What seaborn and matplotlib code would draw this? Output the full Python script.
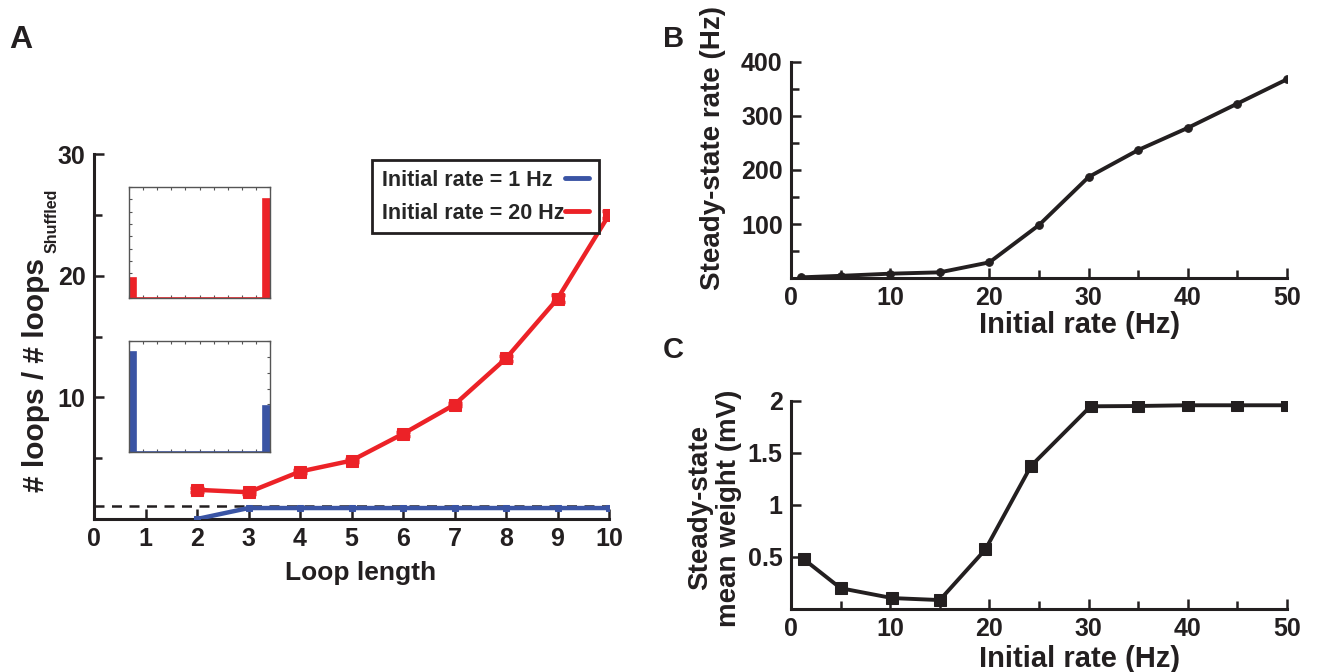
import matplotlib
matplotlib.use("Agg")
import matplotlib.pyplot as plt
import seaborn as sns
import numpy as np
import pandas as pd

# ---------------- data ----------------
loop_length = [2, 3, 4, 5, 6, 7, 8, 9, 10]
ratio_20hz = [2.4, 2.2, 3.9, 4.8, 7.0, 9.4, 13.2, 18.1, 25.0]
ratio_20hz_err = [0.15, 0.12, 0.12, 0.12, 0.15, 0.15, 0.2, 0.3, 0.3]
ratio_1hz = [0.0, 0.9, 0.9, 0.9, 0.9, 0.9, 0.9, 0.9, 0.9]
shuffled_level = 1.1

inset_bins = list(range(20))
inset_red = [0.165] + [0.0] * 18 + [0.80]
inset_blue = [0.63] + [0.0] * 18 + [0.29]

rate_b = [1, 5, 10, 15, 20, 25, 30, 35, 40, 45, 50]
steady_rate = [1.2, 4, 8, 10.5, 29, 98, 187, 237, 278, 323, 368]

rate_c = [1.3, 5, 10.2, 15, 19.6, 24.2, 30.2, 35, 40, 45, 50]
steady_weight = [0.478, 0.20, 0.105, 0.086, 0.573, 1.376, 1.949, 1.952, 1.959, 1.959, 1.959]

legend_labels = ["Initial rate = 1 Hz  ", "Initial rate = 20 Hz"]

RED = "#EC2227"
BLUE = "#3A54A4"
BLACK = "#231F20"

sns.set_theme(style="ticks")
plt.rcParams["font.family"] = ["Liberation Sans", "DejaVu Sans"]
plt.rcParams["font.weight"] = "bold"
plt.rcParams["axes.labelweight"] = "bold"

W, H = 1317, 672
fig = plt.figure(figsize=(W / 100, H / 100), dpi=100)

TICK_FS = 18


def style_axes(ax):
    for s in ["top", "right"]:
        ax.spines[s].set_visible(False)
    for s in ["left", "bottom"]:
        ax.spines[s].set_linewidth(2.2)
        ax.spines[s].set_color(BLACK)
    ax.tick_params(which="both", direction="in", color=BLACK, width=1.8,
                   labelsize=TICK_FS, labelcolor=BLACK)
    ax.tick_params(which="major", length=7, pad=6)
    ax.tick_params(which="minor", length=6)
    for lab in ax.get_xticklabels() + ax.get_yticklabels():
        lab.set_fontweight("bold")


# ---------------- Panel A ----------------
axA = fig.add_axes([94 / W, 1 - 519 / H, 515 / W, 365 / H])
dfA = pd.DataFrame({"x": loop_length, "red": ratio_20hz, "blue": ratio_1hz})
axA.axhline(shuffled_level, color=BLACK, ls=(0, (4, 3)), lw=1.8, zorder=1)
sns.lineplot(data=dfA, x="x", y="blue", ax=axA, color=BLUE, lw=3.2,
             marker="s", markersize=5, markeredgecolor=BLUE, zorder=3,
             label=legend_labels[0])
sns.lineplot(data=dfA, x="x", y="red", ax=axA, color=RED, lw=3.2,
             marker="s", markersize=9, markeredgecolor=RED, zorder=4,
             label=legend_labels[1])
axA.errorbar(loop_length, ratio_20hz, yerr=ratio_20hz_err, fmt="none",
             ecolor=RED, elinewidth=2.5, capsize=5, capthick=2.5, zorder=4)
axA.set_xlim(0, 10)
axA.set_ylim(0, 30)
axA.set_xticks(range(0, 11))
axA.set_yticks([10, 20, 30])
axA.set_yticks([5, 15, 25], minor=True)
style_axes(axA)
axA.set_xlabel("Loop length", fontsize=19, fontweight="bold", color=BLACK)
axA.set_ylabel("")
axA.xaxis.set_label_coords(0.517, -0.115)

# y label of panel A: main text plus smaller subscript
main_lab = fig.text(50 / W, 1 - 492 / H, "# loops / # loops", rotation=90,
                    ha="right", va="bottom", fontsize=21.5, fontweight="bold",
                    color=BLACK)
fig.canvas.draw()
bb = main_lab.get_window_extent(fig.canvas.get_renderer())
fig.text(60 / W, (bb.y1 + 5) / H, "Shuffled", rotation=90, ha="right",
         va="bottom", fontsize=11.5, fontweight="bold", color=BLACK)

leg = axA.legend(loc="upper left", bbox_to_anchor=(372 / W, 1 - 160 / H),
                 bbox_transform=fig.transFigure, markerfirst=False,
                 frameon=True, fancybox=False, framealpha=1,
                 handlelength=1.1, handletextpad=0.05, borderpad=0.45,
                 borderaxespad=0, labelspacing=0.55,
                 prop={"family": "Liberation Sans", "weight": "bold", "size": 15.5})
leg.get_frame().set_edgecolor(BLACK)
leg.get_frame().set_linewidth(2.0)
for h in leg.legend_handles:
    h.set_marker("")
    h.set_linewidth(3.5)

# ---------------- Insets ----------------
def inset(rect, values, color, ymax, n_yint):
    ax = fig.add_axes(rect)
    dfi = pd.DataFrame({"bin": inset_bins, "v": values})
    sns.barplot(data=dfi, x="bin", y="v", ax=ax, color=color, width=1.0,
                edgecolor=color, linewidth=1.2, saturation=1)
    ax.set_xlim(-0.5, 19.5)
    ax.set_ylim(0, ymax)
    ax.set_xticks(np.arange(-0.5, 20, 2))
    ax.set_yticks(np.linspace(0, ymax, n_yint + 1))
    ax.set_xticklabels([])
    ax.set_yticklabels([])
    ax.set_xlabel("")
    ax.set_ylabel("")
    for s in ax.spines.values():
        s.set_linewidth(1.0)
        s.set_color("#555555")
    ax.tick_params(direction="in", length=2, width=0.8, color="#555555",
                   top=True, right=True)
    return ax

inset([129 / W, 1 - 298 / H, 141 / W, 111 / H], inset_red, RED, 0.9, 9)
inset([129 / W, 1 - 452 / H, 141 / W, 111 / H], inset_blue, BLUE, 0.7, 7)

# ---------------- Panel B ----------------
axB = fig.add_axes([791 / W, 1 - 278 / H, 496 / W, 216 / H])
dfB = pd.DataFrame({"rate": rate_b, "ss": steady_rate})
sns.lineplot(data=dfB, x="rate", y="ss", ax=axB, color=BLACK, lw=2.8,
             marker="o", markersize=5.5, markeredgecolor=BLACK)
axB.set_xlim(0, 50)
axB.set_ylim(0, 400)
axB.set_xticks([0, 10, 20, 30, 40, 50])
axB.set_xticks([5, 15, 25, 35, 45], minor=True)
axB.set_yticks([100, 200, 300, 400])
axB.set_yticks([50, 150, 250, 350], minor=True)
style_axes(axB)
axB.set_xlabel("Initial rate (Hz)", fontsize=21, fontweight="bold", color=BLACK)
axB.set_ylabel("Steady-state rate (Hz)", fontsize=20, fontweight="bold", color=BLACK)
axB.xaxis.set_label_coords(0.581, -0.155)
axB.yaxis.set_label_coords(-0.131, 0.60)

# ---------------- Panel C ----------------
axC = fig.add_axes([791 / W, 1 - 609 / H, 496 / W, 208 / H])
dfC = pd.DataFrame({"rate": rate_c, "w": steady_weight})
sns.lineplot(data=dfC, x="rate", y="w", ax=axC, color=BLACK, lw=2.8,
             marker="s", markersize=8, markeredgecolor=BLACK)
axC.set_xlim(0, 50)
axC.set_ylim(0, 2)
axC.set_xticks([0, 10, 20, 30, 40, 50])
axC.set_xticks([5, 15, 25, 35, 45], minor=True)
axC.set_yticks([0.5, 1, 1.5, 2])
axC.set_yticklabels(["0.5", "1", "1.5", "2"])
style_axes(axC)
axC.set_xlabel("Initial rate (Hz)", fontsize=21, fontweight="bold", color=BLACK)
axC.set_ylabel("Steady-state\nmean weight (mV)", fontsize=20,
               fontweight="bold", color=BLACK, linespacing=1.15)
axC.xaxis.set_label_coords(0.581, -0.175)
axC.yaxis.set_label_coords(-0.099, 0.486)

# ---------------- Panel letters ----------------
fig.text(9 / W, 1 - 48 / H, "A", fontsize=23, fontweight="bold", color=BLACK)
fig.text(663 / W, 1 - 47 / H, "B", fontsize=21, fontweight="bold", color=BLACK)
fig.text(663 / W, 1 - 358 / H, "C", fontsize=21, fontweight="bold", color=BLACK)

fig.savefig("out.png", dpi=100)
